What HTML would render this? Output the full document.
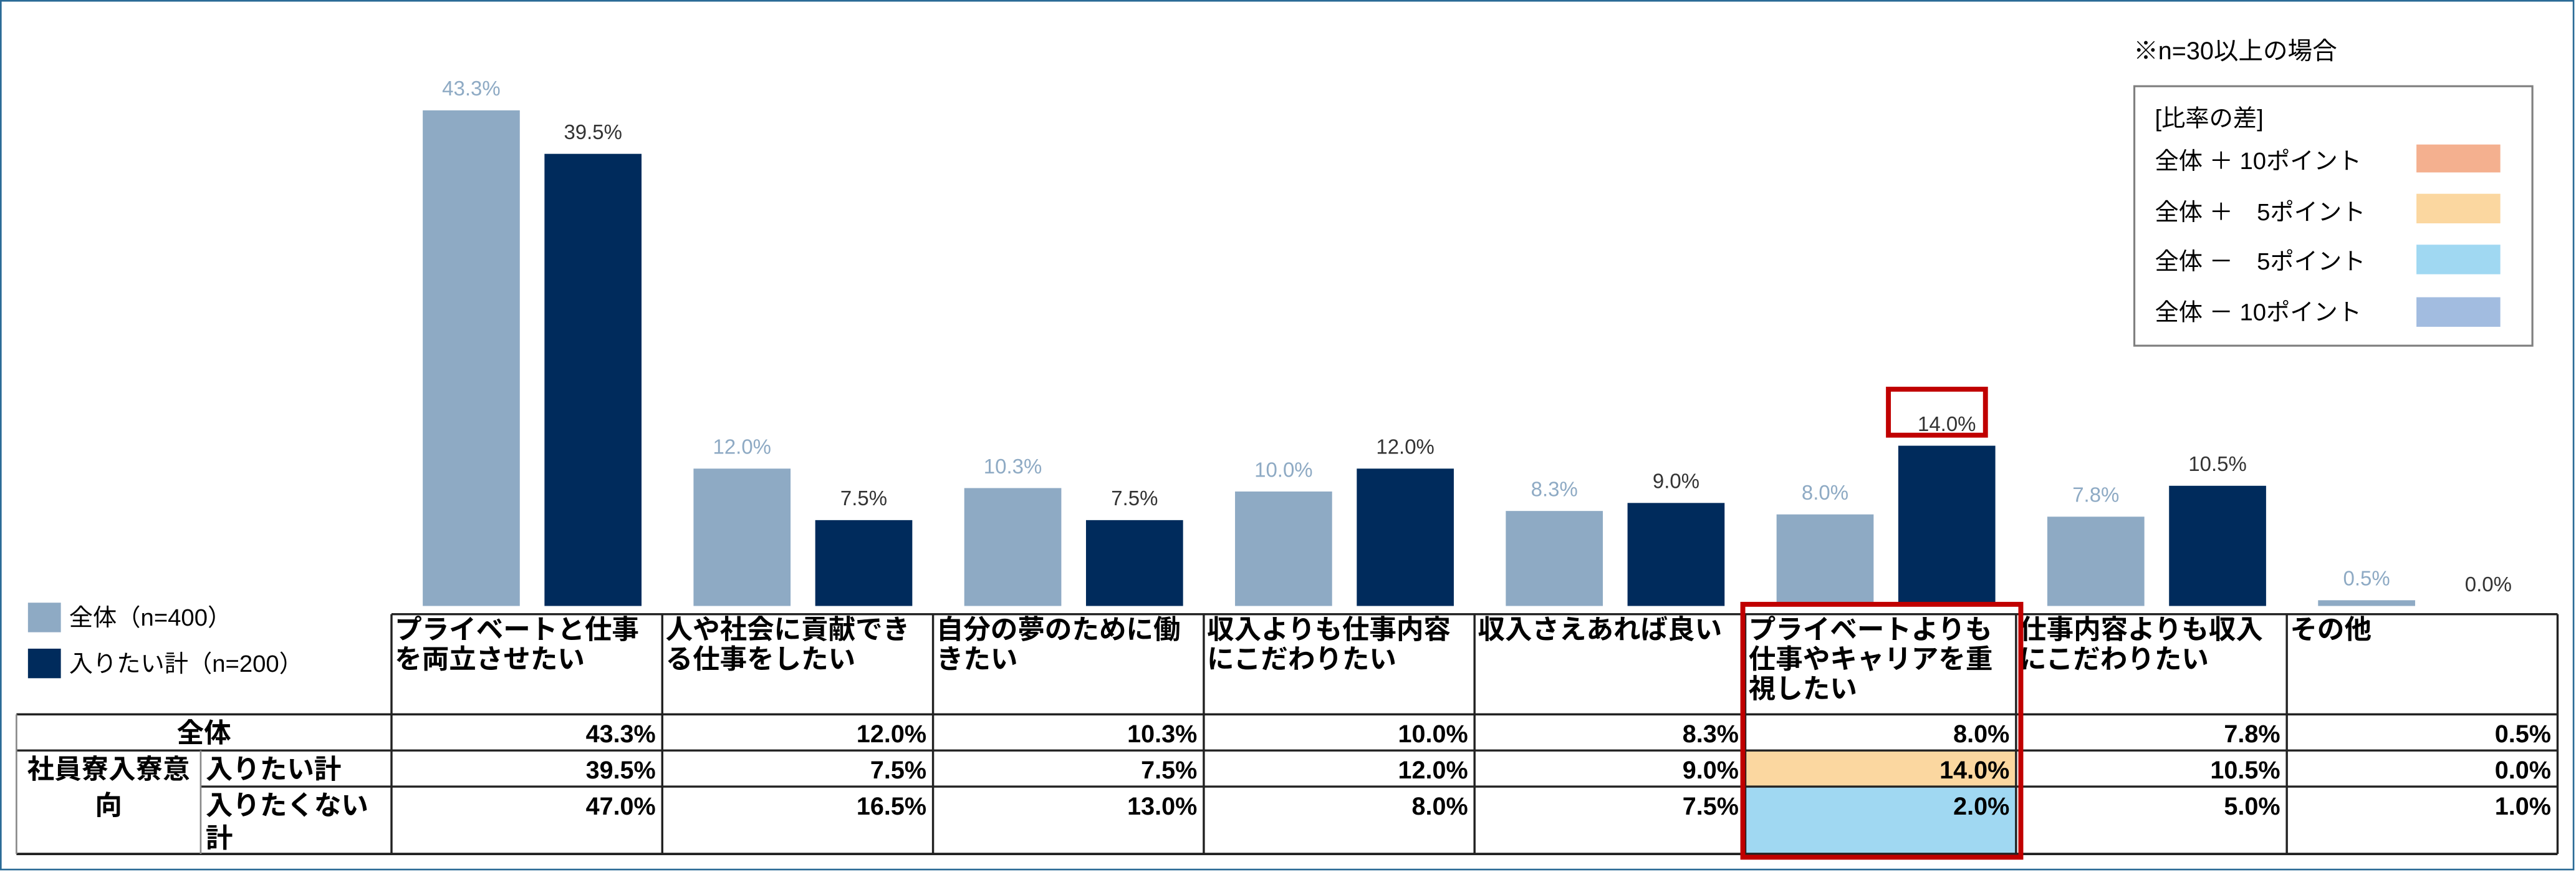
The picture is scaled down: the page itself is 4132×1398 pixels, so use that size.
<!DOCTYPE html>
<html><head><meta charset="utf-8">
<style>
html,body{margin:0;padding:0;background:#fff;}
svg{display:block;}
text{font-family:"Liberation Sans","Noto Sans CJK JP",sans-serif;}
.tb{font-weight:bold;font-size:16.5px;fill:#000;}
.num{font-weight:bold;font-size:15px;fill:#000;}
</style></head>
<body>
<svg id="chart" width="4132" height="1398" viewBox="0 0 1566 531" preserveAspectRatio="none" xmlns="http://www.w3.org/2000/svg">
<rect x="0.5" y="0.5" width="1564" height="529" fill="#fff" stroke="#2a6a96" stroke-width="1"/>
<g id="bars"></g>
<g id="table"></g>
<g>
<rect x="17" y="367" width="20" height="18" fill="#8eaac4"/>
<text x="42" y="381" font-size="14.5">全体（n=400）</text>
<rect x="17" y="395" width="20" height="18" fill="#002b5c"/>
<text x="42" y="409" font-size="14.5">入りたい計（n=200）</text>
</g>
<g>
<text x="1297" y="36" font-size="15">※n=30以上の場合</text>
<rect x="1297.5" y="52.5" width="242" height="158" fill="none" stroke="#808080" stroke-width="1.2"/>
<text x="1310" y="77" font-size="14.5">[比率の差]</text>
<text x="1310" y="103" font-size="14.5" xml:space="preserve">全体 ＋ 10ポイント</text>
<rect x="1469" y="88" width="51" height="17" fill="#f4b08f"/>
<text x="1310" y="134" font-size="14.5" xml:space="preserve">全体 ＋　5ポイント</text>
<rect x="1469" y="118" width="51" height="18" fill="#fbd7a0"/>
<text x="1310" y="164" font-size="14.5" xml:space="preserve">全体 －　5ポイント</text>
<rect x="1469" y="149" width="51" height="18" fill="#a0d8f2"/>
<text x="1310" y="195" font-size="14.5" xml:space="preserve">全体 － 10ポイント</text>
<rect x="1469" y="181" width="51" height="18" fill="#a2bce0"/>
</g>
</svg>
<script>
const categories = [["プライベートと仕事","を両立させたい"],["人や社会に貢献でき","る仕事をしたい"],["自分の夢のために働","きたい"],["収入よりも仕事内容","にこだわりたい"],["収入さえあれば良い"],["プライベートよりも","仕事やキャリアを重","視したい"],["仕事内容よりも収入","にこだわりたい"],["その他"]];
const allValues = [43.3,12.0,10.3,10.0,8.3,8.0,7.8,0.5];
const wantValues = [39.5,7.5,7.5,12.0,9.0,14.0,10.5,0.0];
const notWantValues = [47.0,16.5,13.0,8.0,7.5,2.0,5.0,1.0];

const NS="http://www.w3.org/2000/svg";
const colX0=238, colW=164.6, baseY=369, pxPerPct=6.97, barW=59;
function xCol(i){return colX0+i*colW;}
function yVal(v){return baseY-v*pxPerPct;}
function mk(tag,attrs,parent,txt){const e=document.createElementNS(NS,tag);for(const k in attrs)e.setAttribute(k,attrs[k]);if(txt!==undefined)e.textContent=txt;parent.appendChild(e);return e;}
function fmt(v){return v.toFixed(1)+"%";}
const bars=document.getElementById("bars");
const table=document.getElementById("table");
categories.forEach((c,i)=>{
  const xa=xCol(i)+19, xb=xCol(i)+93;
  let r=mk("rect",{x:xa,y:yVal(allValues[i]),width:barW,height:allValues[i]*pxPerPct,fill:"#8eaac4"},bars);
  
  
  r=mk("rect",{x:xb,y:yVal(wantValues[i]),width:barW,height:wantValues[i]*pxPerPct,fill:"#002b5c"},bars);
  
  
  let t=mk("text",{x:xa+barW/2,y:yVal(allValues[i])-9,"text-anchor":"middle","font-size":"12.5",fill:"#8eaac4"},bars,fmt(allValues[i]));
  
  
  t=mk("text",{x:xb+barW/2,y:yVal(wantValues[i])-9,"text-anchor":"middle","font-size":"12.5",fill:"#333"},bars,fmt(wantValues[i]));
  
  
  // header text
  c.forEach((line,j)=>{
    const h=mk("text",{x:xCol(i)+2,y:389+j*18,class:"tb"},table,line);
    
    
  });
  // highlighted cells
  const diffW=wantValues[i]-allValues[i], diffN=notWantValues[i]-allValues[i];
  function fillFor(d){return d>=10?"#f4b08f":d>=5?"#fbd7a0":d<=-10?"#a2bce0":d<=-5?"#a0d8f2":null;}
  let f=fillFor(diffW);
  if(f){const cr=mk("rect",{x:xCol(i),y:457,width:colW,height:22,fill:f},table);}
  f=fillFor(diffN);
  if(f){const cr=mk("rect",{x:xCol(i),y:479,width:colW,height:41,fill:f},table);}
  [[allValues,452],[wantValues,474],[notWantValues,496]].forEach(([arr,y],k)=>{
    const n=mk("text",{x:xCol(i)+colW-4,y:y,"text-anchor":"end",class:"num"},table,fmt(arr[i]));
    
    
  });
});
// grid lines
const right=xCol(8);
[[238,374,right,374,1.3],[10,435,right,435,1.3],[10,457,right,457,1.3],[122,479,right,479,1.3],[10,520,right,520,1.5]].forEach((l,k)=>{
  const e=mk("line",{x1:l[0],y1:l[1],x2:l[2],y2:l[3],stroke:"#222","stroke-width":l[4]},table);
  
  
});
for(let i=0;i<=8;i++){
  const e=mk("line",{x1:xCol(i),y1:374,x2:xCol(i),y2:520,stroke:"#222","stroke-width":1.3},table);
  
  
}
[[10,435,10,520],[122,457,122,520]].forEach((l,k)=>{
  const e=mk("line",{x1:l[0],y1:l[1],x2:l[2],y2:l[3],stroke:"#888","stroke-width":1},table);
  
  
});
[["全体",124,452,"middle"],["社員寮入寮意",66,474,"middle"],["向",66,496,"middle"],["入りたい計",125,474,"start"],["入りたくない",125,496,"start"],["計",125,516,"start"]].forEach((r,k)=>{
  const e=mk("text",{x:r[1],y:r[2],"text-anchor":r[3],class:"tb"},table,r[0]);
  
  
});
// red highlight boxes
let hb=mk("rect",{x:1059.5,y:368,width:169,height:154,fill:"none",stroke:"#c00000","stroke-width":3},table);


hb=mk("rect",{x:1148,y:237,width:59,height:28,fill:"none",stroke:"#c00000","stroke-width":3},bars);


</script>
</body></html>
